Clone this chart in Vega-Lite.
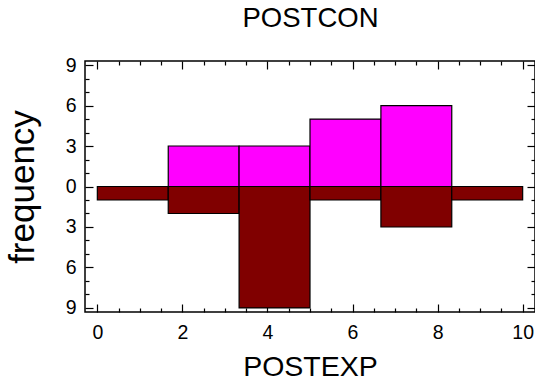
{
  "$schema": "https://vega.github.io/schema/vega-lite/v6.json",
  "autosize": {"type": "none"},
  "width": 450,
  "height": 251,
  "padding": {"left": 85, "top": 61, "right": 0, "bottom": 70},
  "background": "white",
  "config": {
    "view": {"stroke": "black", "strokeWidth": 1.5},
    "axis": {"domain": false, "grid": false, "labelFont": "Liberation Sans", "labelFontSize": 19.5, "labelColor": "black", "tickColor": "black", "tickWidth": 1.2, "titleFont": "Liberation Sans", "titleFontSize": 28.5, "titleFontWeight": "normal", "titleColor": "black", "labelOverlap": false, "labelFlush": false}
  },
  "data": {"values": [
    {"x0": 0, "x1": 1.667, "freq": -1, "group": "POSTEXP"},
    {"x0": 1.667, "x1": 3.333, "freq": -2, "group": "POSTEXP"},
    {"x0": 3.333, "x1": 5, "freq": -9, "group": "POSTEXP"},
    {"x0": 5, "x1": 6.667, "freq": -1, "group": "POSTEXP"},
    {"x0": 6.667, "x1": 8.333, "freq": -3, "group": "POSTEXP"},
    {"x0": 8.333, "x1": 10, "freq": -1, "group": "POSTEXP"},
    {"x0": 1.667, "x1": 3.333, "freq": 3, "group": "POSTCON"},
    {"x0": 3.333, "x1": 5, "freq": 3, "group": "POSTCON"},
    {"x0": 5, "x1": 6.667, "freq": 5, "group": "POSTCON"},
    {"x0": 6.667, "x1": 8.333, "freq": 6, "group": "POSTCON"}
  ]},
  "layer": [
    {
      "mark": {"type": "bar", "stroke": "black", "strokeWidth": 1.2, "opacity": 1},
      "encoding": {
        "x": {"field": "x0", "type": "quantitative", "scale": {"domain": [-0.29, 10.29], "nice": false, "zero": false},
          "axis": {"orient": "bottom", "title": "POSTEXP", "values": [0, 2, 4, 6, 8, 10], "format": "d", "ticks": false, "labelPadding": 11,
            "titleBaseline": "alphabetic", "titleY": 63}},
        "x2": {"field": "x1"},
        "y": {"field": "freq", "type": "quantitative", "scale": {"domain": [-9.3, 9.3], "nice": false, "zero": false},
          "axis": {"orient": "left", "title": "frequency", "values": [-9, -6, -3, 0, 3, 6, 9],
            "labelExpr": "format(abs(datum.value), 'd')", "ticks": false, "labelPadding": 9,
            "titleBaseline": "alphabetic", "titleAngle": -90, "titleX": -52, "titleY": 125.5, "titleFontSize": 35}},
        "y2": {"datum": 0},
        "color": {"field": "group", "type": "nominal", "scale": {"domain": ["POSTCON", "POSTEXP"], "range": ["#ff00ff", "#800000"]}, "legend": null}
      }
    },
    {
      "mark": {"type": "bar", "opacity": 0},
      "encoding": {
        "x": {"field": "x0", "type": "quantitative",
          "axis": {"orient": "bottom", "title": null, "labels": false, "values": [0, 2, 4, 6, 8, 10], "tickSize": -8}},
        "x2": {"field": "x1"},
        "y": {"field": "freq", "type": "quantitative",
          "axis": {"orient": "left", "title": null, "labels": false, "values": [-9, -6, -3, 0, 3, 6, 9], "tickSize": -8}},
        "y2": {"datum": 0}
      }
    },
    {
      "mark": {"type": "bar", "opacity": 0},
      "encoding": {
        "x": {"field": "x0", "type": "quantitative",
          "axis": {"orient": "bottom", "title": null, "labels": false, "values": [0.5,1,1.5,2.5,3,3.5,4.5,5,5.5,6.5,7,7.5,8.5,9,9.5], "tickSize": -4}},
        "x2": {"field": "x1"},
        "y": {"field": "freq", "type": "quantitative",
          "axis": {"orient": "left", "title": null, "labels": false, "values": [-8,-7,-5,-4,-2,-1,1,2,4,5,7,8], "tickSize": -4}},
        "y2": {"datum": 0}
      }
    },
    {
      "mark": {"type": "bar", "opacity": 0},
      "encoding": {
        "x": {"field": "x0", "type": "quantitative",
          "axis": {"orient": "top", "title": "POSTCON", "titleFontSize": 27.5, "titleBaseline": "alphabetic", "titleY": -35, "labels": false, "values": [0, 2, 4, 6, 8, 10], "tickSize": -8}},
        "x2": {"field": "x1"},
        "y": {"field": "freq", "type": "quantitative",
          "axis": {"orient": "right", "title": null, "labels": false, "values": [-9, -6, -3, 0, 3, 6, 9], "tickSize": -8}},
        "y2": {"datum": 0}
      }
    },
    {
      "mark": {"type": "bar", "opacity": 0},
      "encoding": {
        "x": {"field": "x0", "type": "quantitative",
          "axis": {"orient": "top", "title": null, "labels": false, "values": [0.5,1,1.5,2.5,3,3.5,4.5,5,5.5,6.5,7,7.5,8.5,9,9.5], "tickSize": -4}},
        "x2": {"field": "x1"},
        "y": {"field": "freq", "type": "quantitative",
          "axis": {"orient": "right", "title": null, "labels": false, "values": [-8,-7,-5,-4,-2,-1,1,2,4,5,7,8], "tickSize": -4}},
        "y2": {"datum": 0}
      }
    }
  ],
  "resolve": {"axis": {"x": "independent", "y": "independent"}}
}
